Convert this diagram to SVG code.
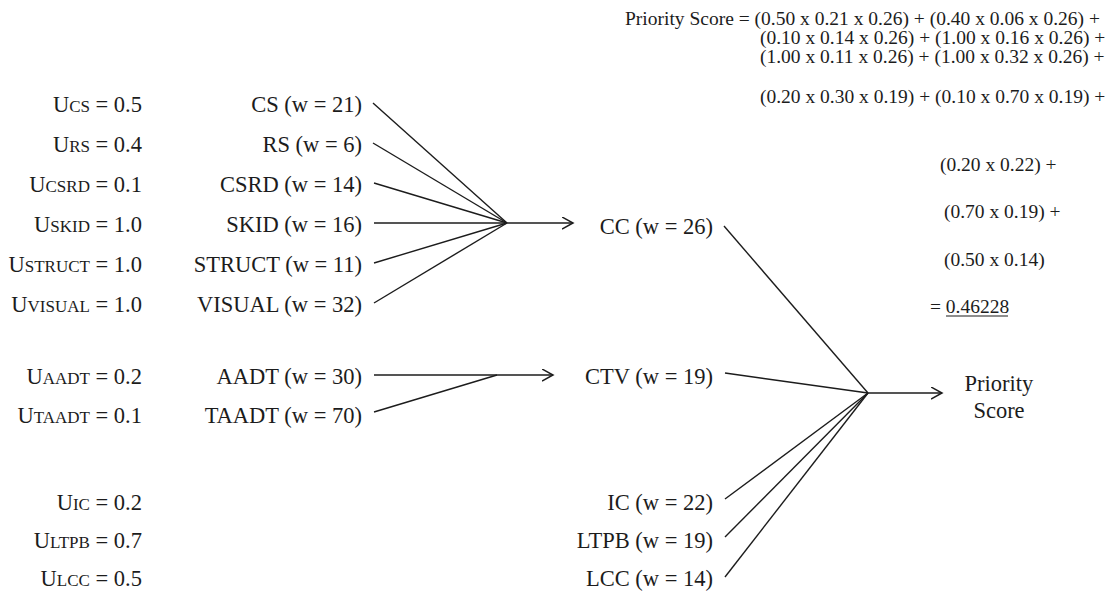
<svg xmlns="http://www.w3.org/2000/svg" width="1120" height="594" viewBox="0 0 1120 594" font-family="'Liberation Serif', 'Tinos', 'Times New Roman', 'DejaVu Serif', serif">
  <style>
    text { font-family: 'Liberation Serif', 'Tinos', 'Times New Roman', 'DejaVu Serif', serif; fill: #1c1c1c; }
    .lbl { font-size: 22.5px; }
    .sc { font-size: 17px; }
    .eq { font-size: 19.5px; }
    .end { text-anchor: end; }
    .mid { text-anchor: middle; }
    .wire { stroke: #1c1c1c; stroke-width: 1.4; fill: none; }
  </style>
  <defs>
    <marker id="arrow" markerUnits="userSpaceOnUse" markerWidth="14" markerHeight="14" refX="11" refY="6" orient="auto">
      <path d="M0,0 L11,6 L0,12" fill="none" stroke="#1c1c1c" stroke-width="1.5"/>
    </marker>
  </defs>

  <rect width="1120" height="594" fill="#ffffff"/>

  <!-- utility values -->
  <g id="u-cs"><text class="lbl end" x="142" y="112">U<tspan class="sc">CS</tspan> = 0.5</text></g>
  <g id="u-rs"><text class="lbl end" x="142" y="152">U<tspan class="sc">RS</tspan> = 0.4</text></g>
  <g id="u-csrd"><text class="lbl end" x="142" y="192">U<tspan class="sc">CSRD</tspan> = 0.1</text></g>
  <g id="u-skid"><text class="lbl end" x="142" y="232">U<tspan class="sc">SKID</tspan> = 1.0</text></g>
  <g id="u-struct"><text class="lbl end" x="142" y="272">U<tspan class="sc">STRUCT</tspan> = 1.0</text></g>
  <g id="u-visual"><text class="lbl end" x="142" y="312">U<tspan class="sc">VISUAL</tspan> = 1.0</text></g>
  <g id="u-aadt"><text class="lbl end" x="142" y="384">U<tspan class="sc">AADT</tspan> = 0.2</text></g>
  <g id="u-taadt"><text class="lbl end" x="142" y="423">U<tspan class="sc">TAADT</tspan> = 0.1</text></g>
  <g id="u-ic"><text class="lbl end" x="142" y="510">U<tspan class="sc">IC</tspan> = 0.2</text></g>
  <g id="u-ltpb"><text class="lbl end" x="142" y="548">U<tspan class="sc">LTPB</tspan> = 0.7</text></g>
  <g id="u-lcc"><text class="lbl end" x="142" y="586">U<tspan class="sc">LCC</tspan> = 0.5</text></g>

  <!-- sub-criteria -->
  <g id="cs"><text class="lbl end" x="362" y="112">CS (w = 21)</text></g>
  <g id="rs"><text class="lbl end" x="362" y="152">RS (w = 6)</text></g>
  <g id="csrd"><text class="lbl end" x="362" y="192">CSRD (w = 14)</text></g>
  <g id="skid"><text class="lbl end" x="362" y="232">SKID (w = 16)</text></g>
  <g id="struct"><text class="lbl end" x="362" y="272">STRUCT (w = 11)</text></g>
  <g id="visual"><text class="lbl end" x="362" y="312">VISUAL (w = 32)</text></g>
  <g id="aadt"><text class="lbl end" x="362" y="384">AADT (w = 30)</text></g>
  <g id="taadt"><text class="lbl end" x="362" y="423">TAADT (w = 70)</text></g>

  <!-- criteria -->
  <g id="cc"><text class="lbl end" x="713" y="234">CC (w = 26)</text></g>
  <g id="ctv"><text class="lbl end" x="713" y="384">CTV (w = 19)</text></g>
  <g id="ic"><text class="lbl end" x="713" y="510">IC (w = 22)</text></g>
  <g id="ltpb"><text class="lbl end" x="713" y="548">LTPB (w = 19)</text></g>
  <g id="lcc"><text class="lbl end" x="713" y="586">LCC (w = 14)</text></g>

  <!-- result -->
  <g id="priority-score">
    <text class="lbl mid" x="999" y="391">Priority</text>
    <text class="lbl mid" x="999" y="418">Score</text>
  </g>

  <!-- worked calculation -->
  <g id="calculation">
    <text class="eq" x="625" y="25">Priority Score = (0.50 x 0.21 x 0.26) + (0.40 x 0.06 x 0.26) +</text>
    <text class="eq" x="760" y="44">(0.10 x 0.14 x 0.26) + (1.00 x 0.16 x 0.26) +</text>
    <text class="eq" x="760" y="63">(1.00 x 0.11 x 0.26) + (1.00 x 0.32 x 0.26) +</text>
    <text class="eq" x="760" y="103">(0.20 x 0.30 x 0.19) + (0.10 x 0.70 x 0.19) +</text>
    <text class="eq" x="940" y="171">(0.20 x 0.22) +</text>
    <text class="eq" x="944" y="218">(0.70 x 0.19) +</text>
    <text class="eq" x="944" y="266">(0.50 x 0.14)</text>
    <text class="eq" x="930" y="313">= 0.46228</text>
    <line x1="946" y1="316" x2="1008" y2="316" stroke="#1c1c1c" stroke-width="1.2"/>
  </g>

  <!-- connectors -->
  <g id="connectors">
    <path class="wire" d="M373,103 L507,223"/>
    <path class="wire" d="M373,143 L507,223"/>
    <path class="wire" d="M374,183 L507,223"/>
    <path class="wire" d="M374,223 L507,223"/>
    <path class="wire" d="M374,263 L507,223"/>
    <path class="wire" d="M374,303 L507,223"/>
    <path class="wire" d="M507,223 L573,223" marker-end="url(#arrow)"/>
    <path class="wire" d="M374,375 L553,375" marker-end="url(#arrow)"/>
    <path class="wire" d="M374,412 L497,375"/>
    <path class="wire" d="M724,226 L868,393"/>
    <path class="wire" d="M725,373 L868,393"/>
    <path class="wire" d="M725,499 L868,393"/>
    <path class="wire" d="M725,537 L868,393"/>
    <path class="wire" d="M725,577 L868,393"/>
    <path class="wire" d="M868,393 L942,393" marker-end="url(#arrow)"/>
  </g>
</svg>
